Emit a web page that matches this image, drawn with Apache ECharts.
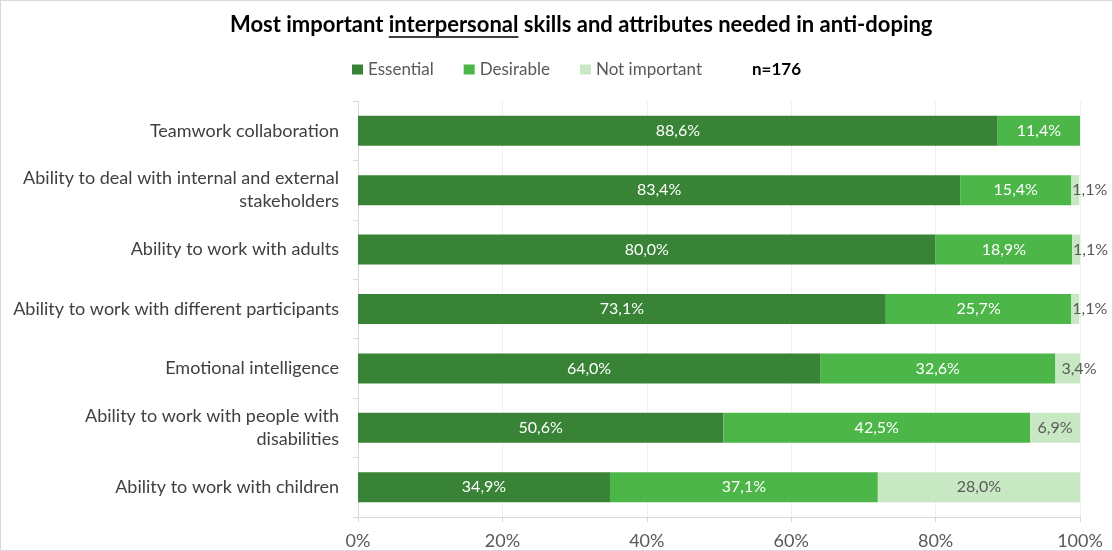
<!DOCTYPE html>
<html>
<head>
<meta charset="utf-8">
<script src="https://cdn.jsdelivr.net/npm/echarts@6/dist/echarts.min.js"></script>
<style>
html,body{margin:0;padding:0;background:#fff;}
#main{width:1111px;height:549px;border:1px solid #d9d9d9;}
</style>
</head>
<body>
<div id="main"></div>
<script>
const categories = [
  'Teamwork collaboration',
  'Ability to deal with internal and external\nstakeholders',
  'Ability to work with adults',
  'Ability to work with different participants',
  'Emotional intelligence',
  'Ability to work with people with\ndisabilities',
  'Ability to work with children'
];
const essential = [88.6, 83.4, 80.0, 73.1, 64.0, 50.6, 34.9];
const desirable = [11.4, 15.4, 18.9, 25.7, 32.6, 42.5, 37.1];
const notImportant = [0, 1.1, 1.1, 1.1, 3.4, 6.9, 28.0];
const xTicks = [0, 20, 40, 60, 80, 100];
const seriesNames = ['Essential', 'Desirable', 'Not important'];
const sampleNote = 'n=176';
const titleParts = ['Most important ', 'interpersonal', ' skills and attributes needed in anti-doping'];

const FONT = 'Lato';
const TITLE_FONT = 'bold 22px ' + FONT;
const TITLE_LEFT = 229;
const TITLE_TOP = 11;
const fmt = v => v.toFixed(1).replace('.', ',') + '%';

// measure title parts for the underline
const ctx = document.createElement('canvas').getContext('2d');
ctx.font = TITLE_FONT;
const w0 = ctx.measureText(titleParts[0]).width;
const w1 = ctx.measureText(titleParts[1]).width;

const chart = echarts.init(document.getElementById('main'));

function mkSeries(name, data, color, labelColor, small) {
  return {
    name: name,
    type: 'bar',
    stack: 'total',
    barWidth: 30,
    itemStyle: { color: color },
    label: {
      show: true,
      position: 'inside',
      color: labelColor,
      fontFamily: FONT,
      fontSize: 16,
      formatter: p => p.value > 0 ? fmt(p.value) : ''
    },
    data: data.map(v => {
      if (small && v > 0 && v < 5) {
        return { value: v, label: { position: 'insideLeft', distance: v < 2 ? 1 : 6 } };
      }
      return v;
    })
  };
}

chart.setOption({
  animation: false,
  textStyle: { fontFamily: FONT },
  title: {
    text: '{b|' + titleParts[0] + '}{b|' + titleParts[1] + '}{b|' + titleParts[2] + '}',
    left: TITLE_LEFT,
    top: TITLE_TOP,
    padding: 0,
    textStyle: {
      rich: {
        b: { fontFamily: FONT, fontWeight: 'bold', fontSize: 22, color: '#000', lineHeight: 26 }
      }
    }
  },
  legend: {
    top: 60,
    left: 351,
    padding: 0,
    itemWidth: 11,
    itemHeight: 10,
    itemGap: 30,
    icon: 'rect',
    textStyle: { color: '#595959', fontSize: 17, fontFamily: FONT },
    data: seriesNames
  },
  graphic: [
    { type: 'text', left: 751, top: 60, style: { text: sampleNote, font: 'bold 17px ' + FONT, fill: '#000' } },
    { type: 'line', shape: { x1: TITLE_LEFT + w0, y1: TITLE_TOP + 25, x2: TITLE_LEFT + w0 + w1, y2: TITLE_TOP + 25 },
      style: { stroke: '#000', lineWidth: 1.5 } }
  ],
  grid: { left: 357, right: 32, top: 100, bottom: 32 },
  xAxis: {
    type: 'value',
    min: 0,
    max: 100,
    interval: 20,
    axisLine: { show: true, lineStyle: { color: '#d9d9d9' } },
    axisTick: { show: true, length: 5, lineStyle: { color: '#d9d9d9' } },
    splitLine: { show: true, lineStyle: { color: '#efefef' } },
    axisLabel: {
      color: '#595959', fontSize: 18, fontFamily: FONT, margin: 15,
      formatter: v => xTicks.includes(v) ? v + '%' : ''
    }
  },
  yAxis: {
    type: 'category',
    inverse: true,
    data: categories,
    axisLine: { show: true, lineStyle: { color: '#d9d9d9' } },
    axisTick: { show: true, length: 5, lineStyle: { color: '#d9d9d9' } },
    axisLabel: {
      color: '#404040', fontSize: 18, fontFamily: FONT, margin: 19,
      lineHeight: 23, align: 'right'
    }
  },
  series: [
    mkSeries(seriesNames[0], essential, '#388335', '#ffffff', false),
    mkSeries(seriesNames[1], desirable, '#4CB648', '#ffffff', false),
    mkSeries(seriesNames[2], notImportant, '#C8E8C4', '#595959', true)
  ]
});
</script>
</body>
</html>
